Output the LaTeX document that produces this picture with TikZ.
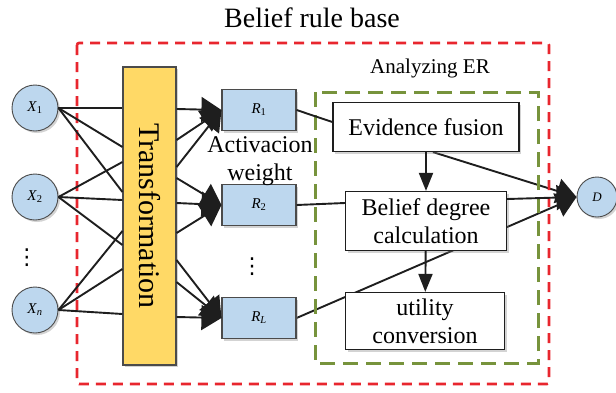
\documentclass[tikz,border=0pt]{standalone}
\usepackage{fontspec}
\setmainfont{Liberation Serif}
\newfontfamily\symfont{DejaVu Sans}
\usepackage{tikz}
\usetikzlibrary{positioning,arrows.meta,shadows,backgrounds,calc}
\definecolor{InBlue}{HTML}{BDD7EE}
\definecolor{TransGold}{HTML}{FFD966}
\definecolor{BrbRed}{HTML}{E8262E}
\definecolor{ErGreen}{HTML}{77933C}
\definecolor{LineGray}{HTML}{1E1E1E}

\begin{document}
\begin{tikzpicture}[
      x=1pt, y=-1pt,
      every node/.style={align=center},
      shade/.style={drop shadow={opacity=0.35, shadow xshift=2pt, shadow yshift=-2pt}},
      input/.style={circle, draw=LineGray!80, fill=InBlue, line width=0.9pt, minimum size=46pt, inner sep=0pt, shade, font=\fontsize{15}{17}\selectfont},
      rule/.style={draw=LineGray!80, fill=InBlue, line width=1.1pt, minimum width=74pt, minimum height=41pt, inner sep=0pt, shade, font=\fontsize{15}{17}\selectfont},
      stage/.style={draw=LineGray, fill=white, line width=1.2pt, inner sep=0pt, shade, font=\fontsize{24}{28}\selectfont},
      vdotsbox/.style={font=\symfont\fontsize{22}{24}\selectfont, inner sep=0pt},
      link/.style={line width=1.9pt, LineGray},
      bigarrow/.style={link, -{Triangle[length=20pt,width=25pt]}},
      midarrow/.style={link, -{Triangle[length=18pt,width=14pt]}}
    ]
      \useasboundingbox (0,0) rectangle (616,392);

      % belief rule base frame
      \draw[BrbRed, line width=2.6pt, dash pattern=on 10pt off 7pt, rounded corners=2pt] (77,43) rectangle (549,384);
      \node[font=\fontsize{28}{32}\selectfont] (brb) at (312,18) {Belief rule base};

      % analyzing ER frame
      \draw[ErGreen, line width=3pt, dash pattern=on 15pt off 8pt] (315,92) rectangle (538,363);
      \node[font=\fontsize{21}{24}\selectfont] (aer) at (430,68) {Analyzing ER};

      % inputs
      \node[input] (x1) at (35,108) {\textit{X}\textsubscript{1}};
      \node[input] (x2) at (35,197) {\textit{X}\textsubscript{2}};
      \node[input] (xn) at (35,310) {\textit{X}\textsubscript{\textit{n}}};
      \node[vdotsbox] (xdots) at (27,258) {⋮};

      % transformation
      \node[draw=LineGray!80, fill=TransGold, line width=1.1pt, minimum width=53pt, minimum height=298pt, inner sep=0pt, shade] (tr) at (149.5,216) {};
      \node[rotate=-90, font=\fontsize{30}{32}\selectfont] (trlabel) at (tr.center) {Transformation};

      % rules
      \node[rule] (r1) at (259,110) {\textit{R}\textsubscript{1}};
      \node[rule] (r2) at (259,205) {\textit{R}\textsubscript{2}};
      \node[rule] (rl) at (259,318) {\textit{R}\textsubscript{\textit{L}}};
      \node[vdotsbox] (rdots) at (252,267) {⋮};
      \node[font=\fontsize{24}{28}\selectfont] (aw) at (260,161) {Activacion\\weight};

      % ER stages
      \node[stage, minimum width=186pt, minimum height=49pt] (ef) at (426,127) {Evidence fusion};
      \node[stage, minimum width=161pt, minimum height=59pt] (bdc) at (426,221) {Belief degree\\calculation};
      \node[stage, minimum width=159pt, minimum height=57pt] (uc) at (425,321) {utility\\conversion};

      % output
      \node[input, minimum size=40pt, font=\fontsize{13}{15}\selectfont] (d) at (597,197) {\textit{D}};

      % attachment points on the transformation bar
      \foreach \y [count=\i] in {108,147,162,192,200,231,245,269,314}
        \coordinate (in\i) at (tr.west |- 0,\y);
      \foreach \y [count=\i] in {109,140,167,178,203,233,260,282,317}
        \coordinate (out\i) at (tr.east |- 0,\y);

      \foreach \k in {1,2,4} \draw[link] (x1.east) -- (in\k);
      \foreach \k in {3,5,7} \draw[link] (x2.east) -- (in\k);
      \foreach \k in {6,8,9} \draw[link] (xn.east) -- (in\k);

      \foreach \k in {1,2,3} \draw[bigarrow] (out\k) -- (r1.west);
      \foreach \k in {4,5,6} \draw[bigarrow] (out\k) -- (r2.west);
      \foreach \k in {7,8,9} \draw[bigarrow] (out\k) -- (rl.west);

      \draw[link] (r1.east) -- ($(ef.west)+(0,-5)$);
      \draw[link] (r2.east) -- ($(bdc.west)+(0,-18)$);
      \draw[midarrow] (ef) -- (bdc);
      \draw[midarrow] (bdc) -- (uc);
      \draw[bigarrow] ($(bdc.east)+(0,-22)$) -- (d.west);

      \begin{pgfonlayer}{background}
        \draw[bigarrow] ($(ef.south)+(7,0)$) -- (d.west);
        \draw[bigarrow] (rl.east) -- (d.west);
      \end{pgfonlayer}

    \end{tikzpicture}
\end{document}
